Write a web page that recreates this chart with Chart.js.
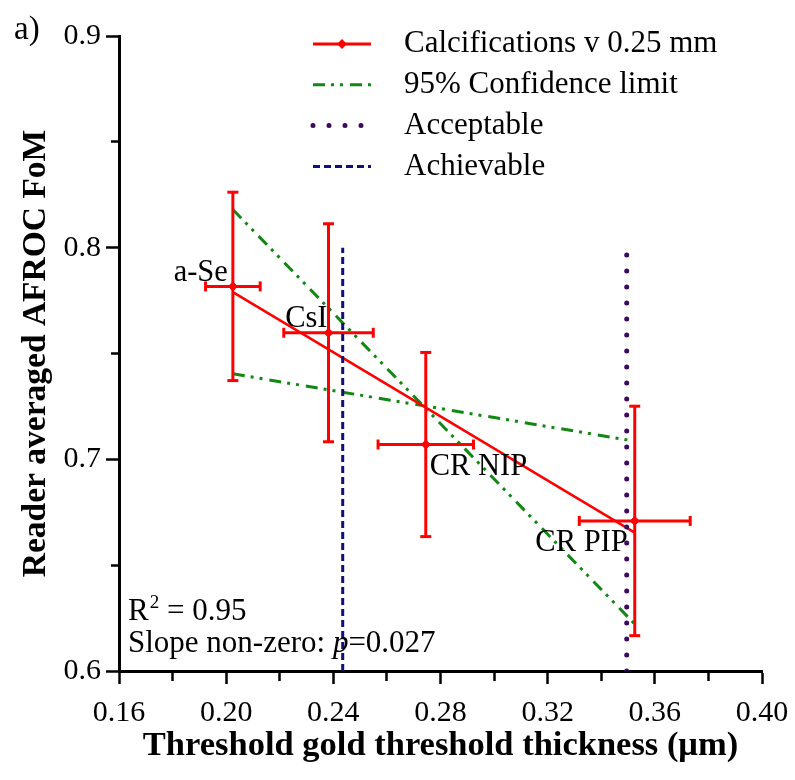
<!DOCTYPE html>
<html>
<head>
<meta charset="utf-8">
<script src="https://cdn.jsdelivr.net/npm/chart.js@4/dist/chart.umd.min.js"></script>
<style>
  html, body { margin: 0; padding: 0; background: #fff; }
</style>
</head>
<body>
<canvas id="chart" width="795" height="780"></canvas>
<script>
// detectors and their measured values
const detectors = ["a-Se", "CsI", "CR NIP", "CR PIP"];
const goldThickness = [0.2025, 0.2382, 0.2745, 0.3525];
const goldThicknessErr = [0.0102, 0.0167, 0.0178, 0.0207];
const afrocFom = [0.7817, 0.7598, 0.7070, 0.6709];
const afrocFomErr = [0.0445, 0.0515, 0.0435, 0.0542];

// linear fit and 95% confidence limits
const fitX = [0.2025, 0.3525];
const fitY = [0.7790, 0.6654];
const confSteepY = [0.8180, 0.6222];
const confShallowY = [0.7404, 0.7086];

// threshold limits
const acceptableX = 0.3495;
const achievableX = 0.2435;
const limitY = [0.6, 0.8];

const xTickLabels = ["0.16", "0.20", "0.24", "0.28", "0.32", "0.36", "0.40"];
const yTickLabels = ["0.6", "0.7", "0.8", "0.9"];

const seriesLabels = ["Calcifications v 0.25 mm", "95% Confidence limit", "Acceptable", "Achievable"];
const statsR2 = "0.95";
const statsP = "0.027";

const RED = "#ff0000";
const GREEN = "#118811";
const PURPLE = "#3d0a5c";
const NAVY = "#10107a";
const SERIF = "'Liberation Serif', 'Times New Roman', serif";

Chart.defaults.font.family = SERIF;
Chart.defaults.color = "#000";

const pts = (xs, ys) => xs.map((x, i) => ({ x, y: ys[i] }));

const datasets = [];
datasets.push({
  label: seriesLabels[0],
  data: pts(goldThickness, afrocFom),
  showLine: false,
  pointStyle: "rectRot",
  pointRadius: 4.5,
  pointBorderWidth: 1,
  backgroundColor: RED,
  borderColor: RED,
  borderWidth: 3,
  order: 0
});
goldThickness.forEach((x, i) => {
  const y = afrocFom[i];
  datasets.push({
    data: [{ x, y: y - afrocFomErr[i] }, { x, y: y + afrocFomErr[i] }],
    showLine: true, borderColor: RED, borderWidth: 3,
    pointStyle: "line", pointRadius: 5.5, pointBorderWidth: 3,
    pointBorderColor: RED, pointRotation: 0, order: 3
  });
  datasets.push({
    data: [{ x: x - goldThicknessErr[i], y }, { x: x + goldThicknessErr[i], y }],
    showLine: true, borderColor: RED, borderWidth: 3,
    pointStyle: "line", pointRadius: 5, pointBorderWidth: 3,
    pointBorderColor: RED, pointRotation: 90, order: 3
  });
});
datasets.push({
  data: pts(fitX, fitY),
  showLine: true, borderColor: RED, borderWidth: 2.5, pointRadius: 0, order: 3
});
datasets.push({
  label: seriesLabels[1],
  data: pts(fitX, confSteepY),
  showLine: true, borderColor: GREEN, borderWidth: 3,
  borderDash: [12, 6, 3, 6, 3, 7], pointRadius: 0, order: 4
});
datasets.push({
  data: pts(fitX, confShallowY),
  showLine: true, borderColor: GREEN, borderWidth: 3,
  borderDash: [12, 6, 3, 6, 3, 7], pointRadius: 0, order: 4
});
datasets.push({
  label: seriesLabels[2],
  data: pts([acceptableX, acceptableX], limitY),
  showLine: true, borderColor: PURPLE, borderWidth: 5,
  borderDash: [0, 16], borderCapStyle: "round", pointRadius: 0, order: 2
});
datasets.push({
  label: seriesLabels[3],
  data: pts([achievableX, achievableX], limitY),
  showLine: true, borderColor: NAVY, borderWidth: 3,
  borderDash: [7, 4], pointRadius: 0, order: 2
});

// legend drawn as line samples next to the text, like the original figure
const sketchLegend = {
  id: "sketchLegend",
  afterDraw(chart, args, opts) {
    const ctx = chart.ctx;
    let row = 0;
    chart.data.datasets.forEach(ds => {
      if (!ds.label) return;
      const y = opts.top + row * opts.step;
      ctx.save();
      ctx.strokeStyle = ds.borderColor;
      ctx.lineWidth = ds.borderWidth;
      ctx.setLineDash(ds.borderDash || []);
      ctx.lineCap = ds.borderCapStyle || "butt";
      ctx.beginPath();
      ctx.moveTo(opts.x0, y);
      ctx.lineTo(opts.x1, y);
      ctx.stroke();
      if (ds.pointStyle === "rectRot") {
        const cx = (opts.x0 + opts.x1) / 2, r = 5;
        ctx.setLineDash([]);
        ctx.fillStyle = ds.backgroundColor;
        ctx.beginPath();
        ctx.moveTo(cx, y - r); ctx.lineTo(cx + r, y); ctx.lineTo(cx, y + r); ctx.lineTo(cx - r, y);
        ctx.closePath();
        ctx.fill();
      }
      ctx.fillStyle = "#000";
      ctx.font = opts.fontSize + "px " + SERIF;
      ctx.textBaseline = "middle";
      ctx.textAlign = "left";
      ctx.fillText(ds.label, opts.textX, y);
      ctx.restore();
      row++;
    });
  }
};

// detector names, statistics and the panel letter
const sketchNotes = {
  id: "sketchNotes",
  afterDatasetsDraw(chart, args, opts) {
    const ctx = chart.ctx;
    const xs = chart.scales.x, ys = chart.scales.y;
    ctx.save();
    ctx.fillStyle = "#000";
    ctx.textBaseline = "alphabetic";
    ctx.font = opts.nameSize + "px " + SERIF;
    detectors.forEach((name, i) => {
      const o = opts.nameOffsets[i];
      ctx.textAlign = o[2];
      ctx.fillText(name, xs.getPixelForValue(goldThickness[i]) + o[0], ys.getPixelForValue(afrocFom[i]) + o[1]);
    });

    const area = chart.chartArea;
    const sx = area.left + 9;
    ctx.textAlign = "left";
    ctx.font = opts.statSize + "px " + SERIF;
    ctx.fillText("R", sx, area.bottom - 51);
    let w = ctx.measureText("R").width;
    ctx.font = Math.round(opts.statSize * 0.62) + "px " + SERIF;
    ctx.fillText("2", sx + w + 1, area.bottom - 63);
    w += ctx.measureText("2").width + 1;
    ctx.font = opts.statSize + "px " + SERIF;
    ctx.fillText(" = " + statsR2, sx + w, area.bottom - 51);

    const line2 = "Slope non-zero: ";
    ctx.fillText(line2, sx, area.bottom - 19);
    let w2 = ctx.measureText(line2).width;
    ctx.font = "italic " + opts.statSize + "px " + SERIF;
    ctx.fillText("p", sx + w2, area.bottom - 19);
    w2 += ctx.measureText("p").width;
    ctx.font = opts.statSize + "px " + SERIF;
    ctx.fillText("=" + statsP, sx + w2, area.bottom - 19);

    ctx.font = "33px " + SERIF;
    ctx.fillText("a)", 14, 39);
    ctx.restore();
  }
};

const isMajorX = v => Math.round(v * 100) % 4 === 0;
const isMajorY = v => Math.round(v * 100) % 10 === 0;

new Chart(document.getElementById("chart").getContext("2d"), {
  type: "scatter",
  data: { datasets },
  options: {
    responsive: false,
    animation: false,
    events: [],
    layout: { padding: { left: 0, top: 36, right: 33, bottom: 0 } },
    plugins: {
      legend: { display: false },
      tooltip: { enabled: false },
      sketchLegend: { top: 44, step: 40.8, x0: 313, x1: 371, textX: 404, fontSize: 31 },
      sketchNotes: {
        nameSize: 30.5, statSize: 31,
        nameOffsets: [[-5, -5, "right"], [-1, -6, "right"], [4, 30, "left"], [-7, 30, "right"]]
      }
    },
    scales: {
      x: {
        type: "linear",
        min: 0.16,
        max: 0.40,
        afterFit: s => { s.height = 109; s.paddingLeft = 0; s.paddingRight = 0; },
        ticks: {
          stepSize: 0.02,
          padding: 11,
          autoSkip: false,
          maxRotation: 0,
          font: { size: 30 },
          callback: v => isMajorX(v) ? xTickLabels[Math.round((v - 0.16) / 0.04)] : ""
        },
        grid: {
          drawOnChartArea: false,
          tickLength: 13,
          tickWidth: 2.5,
          tickColor: "#000",
          tickBorderDash: c => (c.tick && !isMajorX(c.tick.value)) ? [8, 100] : []
        },
        border: { color: "#000", width: 3 },
        title: {
          display: true,
          text: "Threshold gold threshold thickness (μm)",
          font: { size: 34.5, weight: "bold" },
          padding: { top: 0, bottom: 13 }
        }
      },
      y: {
        min: 0.6,
        max: 0.9,
        afterFit: s => { s.width = 119; s.paddingTop = 0; s.paddingBottom = 0; },
        ticks: {
          stepSize: 0.05,
          padding: 5,
          autoSkip: false,
          font: { size: 30 },
          callback: v => isMajorY(v) ? yTickLabels[Math.round((v - 0.6) / 0.1)] : ""
        },
        grid: {
          drawOnChartArea: false,
          tickLength: 13,
          tickWidth: 2.5,
          tickColor: "#000",
          tickBorderDash: c => (c.tick && !isMajorY(c.tick.value)) ? [0, 5, 8, 100] : []
        },
        border: { color: "#000", width: 3 },
        title: {
          display: true,
          text: "Reader averaged AFROC FoM",
          font: { size: 33.5, weight: "bold" },
          padding: { top: 16, bottom: 0 }
        }
      }
    }
  },
  plugins: [sketchLegend, sketchNotes]
});
</script>
</body>
</html>
